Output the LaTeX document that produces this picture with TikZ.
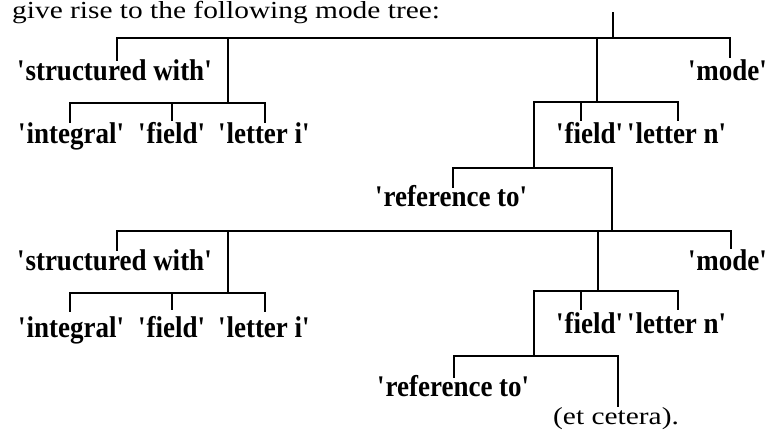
\documentclass[tikz,border=0pt]{standalone}
\usepackage{fontspec}
\setmainfont{Liberation Serif}
\newfontfamily\widefont{Liberation Serif}[FakeStretch=1.2]
\newfontfamily\labfont{Liberation Serif}[FakeStretch=0.9]
\begin{document}
\begin{tikzpicture}[x=1pt,y=-1pt,
  conn/.style={line width=2.6pt, line cap=rect},
  lab/.style={anchor=base west, inner sep=0pt, font=\labfont\fontsize{30}{33}\selectfont\bfseries},
  labr/.style={lab, anchor=base east},
  txt/.style={anchor=base west, inner sep=0pt, font=\widefont\fontsize{24.5}{28}\selectfont}]
\useasboundingbox (0,0) rectangle (770,429);
\newcommand{\qq}[1]{\textquotesingle#1\textquotesingle}
% texts
\node[txt] (hdr) at (12,18) {give rise to the following mode tree:};
% tree 1
\node[lab] (sw1) at (17,80) {\qq{structured with}};
\node[lab] (in1) at (18,143) {\qq{integral}};
\node[lab] (fi1) at (138,143) {\qq{field}};
\node[lab] (li1) at (218,143) {\qq{letter i}};
\node[labr] (mo1) at (768,80) {\qq{mode}};
\node[lab] (ff1) at (556,143) {\qq{field}};
\node[lab] (ln1) at (627,143) {\qq{letter n}};
\node[lab] (rf1) at (375,206) {\qq{reference to}};
% tree 2
\node[lab] (sw2) at (17,270) {\qq{structured with}};
\node[lab] (in2) at (18,337) {\qq{integral}};
\node[lab] (fi2) at (138,337) {\qq{field}};
\node[lab] (li2) at (218,337) {\qq{letter i}};
\node[labr] (mo2) at (768,270) {\qq{mode}};
\node[lab] (ff2) at (556,333) {\qq{field}};
\node[lab] (ln2) at (627,333) {\qq{letter n}};
\node[lab] (rf2) at (377,396) {\qq{reference to}};
\node[txt] (etc) at (553,424) {(et cetera).};
% coordinates tree 1
\coordinate (rt) at (613,13);
\coordinate (aL1) at (117,38); \coordinate (aR1) at (730,38); \coordinate (aJ1) at (613,38);
\coordinate (swE1) at (117,60);
\coordinate (bT1) at (228,38); \coordinate (bJ1) at (228,103);
\coordinate (bL1) at (70,103); \coordinate (bR1) at (265,103);
\coordinate (inE1) at (70,122); \coordinate (fiT1) at (172,103); \coordinate (fiE1) at (172,120); \coordinate (liE1) at (265,122);
\coordinate (cT1) at (597,38); \coordinate (cJ1) at (597,102);
\coordinate (cL1) at (534,102); \coordinate (cR1) at (678,102);
\coordinate (ffT1) at (581,102); \coordinate (ffE1) at (581,120); \coordinate (lnE1) at (678,120);
\coordinate (moE1) at (730,57);
\coordinate (dJ1) at (534,168); \coordinate (dL1) at (453,168); \coordinate (dR1) at (612,168);
\coordinate (rfE1) at (453,187);
% coordinates tree 2
\coordinate (aL2) at (117,231); \coordinate (aR2) at (731,231); \coordinate (aJ2) at (612,231);
\coordinate (swE2) at (117,250);
\coordinate (bT2) at (228,231); \coordinate (bJ2) at (228,293);
\coordinate (bL2) at (70,293); \coordinate (bR2) at (265,293);
\coordinate (inE2) at (70,311); \coordinate (fiT2) at (172,293); \coordinate (fiE2) at (172,309); \coordinate (liE2) at (265,311);
\coordinate (cT2) at (598,231); \coordinate (cJ2) at (598,291);
\coordinate (cL2) at (534,291); \coordinate (cR2) at (678,291);
\coordinate (ffT2) at (581,291); \coordinate (ffE2) at (581,309); \coordinate (lnE2) at (678,309);
\coordinate (moE2) at (731,248);
\coordinate (dJ2) at (534,356); \coordinate (dL2) at (454,356); \coordinate (dR2) at (618,356);
\coordinate (rfE2) at (454,377); \coordinate (etE) at (618,406);
% connectors tree 1
\draw[conn] (rt) -- (aJ1);
\draw[conn] (swE1) -- (aL1) -- (aR1) -- (moE1);
\draw[conn] (bT1) -- (bJ1);
\draw[conn] (inE1) -- (bL1) -- (bR1) -- (liE1);
\draw[conn] (fiT1) -- (fiE1);
\draw[conn] (cT1) -- (cJ1);
\draw[conn] (cL1) -- (cR1) -- (lnE1);
\draw[conn] (ffT1) -- (ffE1);
\draw[conn] (cL1) -- (dJ1);
\draw[conn] (rfE1) -- (dL1) -- (dR1) -- (aJ2);
% connectors tree 2
\draw[conn] (swE2) -- (aL2) -- (aR2) -- (moE2);
\draw[conn] (bT2) -- (bJ2);
\draw[conn] (inE2) -- (bL2) -- (bR2) -- (liE2);
\draw[conn] (fiT2) -- (fiE2);
\draw[conn] (cT2) -- (cJ2);
\draw[conn] (cL2) -- (cR2) -- (lnE2);
\draw[conn] (ffT2) -- (ffE2);
\draw[conn] (cL2) -- (dJ2);
\draw[conn] (rfE2) -- (dL2) -- (dR2) -- (etE);
\end{tikzpicture}
\end{document}
